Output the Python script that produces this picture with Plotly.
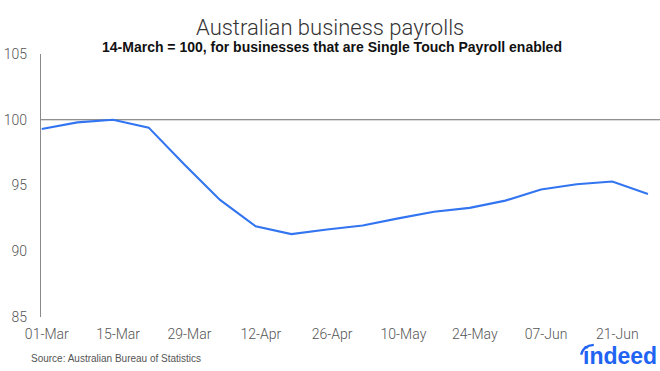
import plotly.graph_objects as go

dates = ["2020-02-29", "2020-03-07", "2020-03-14", "2020-03-21", "2020-03-28",
         "2020-04-04", "2020-04-11", "2020-04-18", "2020-04-25", "2020-05-02",
         "2020-05-09", "2020-05-16", "2020-05-23", "2020-05-30", "2020-06-06",
         "2020-06-13", "2020-06-20", "2020-06-27"]
payrolls = [99.3, 99.8, 100.0, 99.4, 96.6, 93.9, 91.9, 91.3, 91.65, 91.96,
            92.5, 93.0, 93.3, 93.85, 94.7, 95.1, 95.3, 94.35]

tick_vals = ["2020-03-01", "2020-03-15", "2020-03-29", "2020-04-12", "2020-04-26",
             "2020-05-10", "2020-05-24", "2020-06-07", "2020-06-21"]
tick_text = ["01-Mar", "15-Mar", "29-Mar", "12-Apr", "26-Apr",
             "10-May", "24-May", "07-Jun", "21-Jun"]
y_ticks = [85, 90, 95, 100, 105]

font_fam = "Liberation Sans, Arial, sans-serif"
light_fam = "Roboto, " + font_fam

fig = go.Figure()
fig.add_trace(go.Scatter(x=dates, y=payrolls, mode="lines",
                         line=dict(color="#3375f0", width=2.1),
                         hoverinfo="skip", showlegend=False))

fig.add_shape(type="line", xref="paper", yref="y", x0=0, x1=1, y0=100, y1=100,
              line=dict(color="#6b6b6b", width=1.2), layer="below")

# arc of the indeed logo
fig.add_shape(type="path", xref="paper", yref="paper",
              path="M 0.8725,-0.143 Q 0.876,-0.109 0.893,-0.106",
              line=dict(color="#2164f3", width=2.4))

fig.update_layout(
    width=660, height=371,
    margin=dict(l=41, r=0, t=54, b=54),
    paper_bgcolor="white", plot_bgcolor="white",
    font=dict(family=light_fam, color="#555555", size=14),
    xaxis=dict(type="date", range=["2020-02-28 20:40", "2020-06-29 08:40"],
               tickvals=tick_vals, ticktext=tick_text, showgrid=False,
               zeroline=False, showline=False, ticks="", automargin=False,
               ticklabelstandoff=7,
               tickfont=dict(size=14, color="#555555", family=light_fam, weight=300)),
    yaxis=dict(range=[85, 105], tickvals=y_ticks, showgrid=False, zeroline=False,
               showline=True, linecolor="#8a8a8a", linewidth=1.2, ticks="",
               ticklabelstandoff=10, automargin=False,
               tickfont=dict(size=14, color="#555555", family=light_fam, weight=300)),
    annotations=[
        dict(text="Australian business payrolls", xref="paper", yref="paper",
             x=0.467, y=1.0, yshift=27, xanchor="center", yanchor="middle",
             showarrow=False,
             font=dict(size=22, color="#333333", family=light_fam, weight=300)),
        dict(text="<b>14-March = 100, for businesses that are Single Touch Payroll enabled</b>",
             xref="paper", yref="paper", x=0.47, y=1.0, yshift=7,
             xanchor="center", yanchor="middle", showarrow=False,
             font=dict(size=14, color="#111111", family=font_fam)),
        dict(text="Source: Australian Bureau of Statistics", xref="paper", yref="paper",
             x=-0.02, y=0, yshift=-41, xanchor="left", yanchor="middle",
             showarrow=False, font=dict(size=10, color="#555555", family=font_fam)),
        dict(text="<b>indeed</b>", xref="paper", yref="paper", x=1.0, y=0,
             xshift=-2, yshift=-39, xanchor="right", yanchor="middle", showarrow=False,
             borderpad=0,
             font=dict(size=23, color="#2164f3", family=font_fam)),
    ],
)

fig.write_html("out.html", config={"displayModeBar": False})

with open("out.html", "r", encoding="utf-8") as f:
    html = f.read()
html = html.replace("<head>", "<head><style>html,body{margin:0;padding:0;overflow:hidden;}</style>", 1)
with open("out.html", "w", encoding="utf-8") as f:
    f.write(html)
